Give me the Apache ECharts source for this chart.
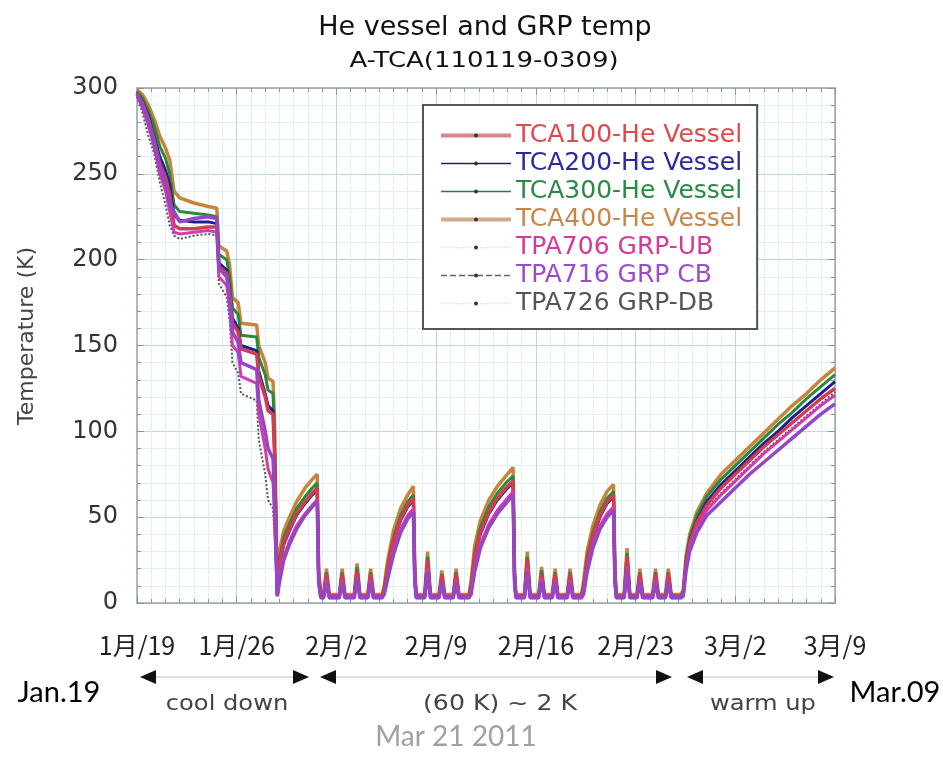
<!DOCTYPE html>
<html><head><meta charset="utf-8">
<script src="https://cdn.jsdelivr.net/npm/echarts@6/dist/echarts.min.js"></script>
<style>html,body{margin:0;padding:0;background:#fff}#c{width:943px;height:764px}</style>
</head><body><div id="c"></div>
<script>
// x in days since Jan 19 (2011)
const xTickLabels = ["1月/19","1月/26","2月/2","2月/9","2月/16","2月/23","3月/2","3月/9"];
const yTickLabels = [0,50,100,150,200,250,300];
const seriesNames = ["TCA100-He Vessel","TCA200-He Vessel","TCA300-He Vessel","TCA400-He Vessel","TPA706 GRP-UB","TPA716 GRP CB","TPA726 GRP-DB"];

const days = [
 0,0.4,0.8,1.2,1.6,2.0,2.3,2.6,3.0,4.0,5.0,5.6,5.75,6.3,6.5,6.7,7.1,7.3,8.4,8.55,9.0,9.2,9.55,9.65,9.85,
 10.0,10.3,10.7,11.2,11.8,12.3,12.65,12.75,12.9,
 13.1,13.3,13.5,14.2,14.4,14.6,15.25,15.45,15.65,16.2,16.4,16.6,17.2,
 17.35,17.6,18.0,18.5,19.0,19.4,19.5,19.6,
 20.2,20.4,20.6,21.2,21.4,21.6,22.2,22.4,22.6,23.3,
 23.45,23.7,24.1,24.7,25.3,25.9,26.4,26.5,26.6,
 27.2,27.4,27.6,28.2,28.4,28.6,29.15,29.35,29.55,30.2,30.4,30.6,31.2,
 31.35,31.6,32.0,32.5,33.0,33.45,33.55,33.65,
 34.2,34.4,34.6,35.1,35.3,35.5,36.2,36.4,36.6,37.1,37.3,37.5,38.2,
 38.35,38.55,38.8,39.3,40.0,41.0,42.0,43.0,44.0,45.0,46.0,47.0,48.0,49.0
];
const tca400 = [
 299,296,290,282,272,265,258,240,236,233,231,230,208,205,197,178,175,163,162,150,140,131,129,107,6,
 30,42,50,59,67,72,75,20,5,
 5,20,5,5,20,5,5,23,5,5,20,5,5,
 10,25,42,55,63,68,20,5,
 5,30,5,5,19,5,5,20,5,5,
 13,33,48,60,68,74,79,20,5,
 5,30,5,5,21,5,5,20,5,5,20,5,5,
 13,30,45,57,65,69,20,5,
 5,32,5,5,20,5,5,20,5,5,20,5,5,
 8,28,40,53,64,75,83,91,99,107,115,122,130,137
];
const tca300 = [
 298,294,287,278,266,259,250,232,228,227,226,225,203,200,190,172,168,156,155,143,133,124,122,98,5,
 26,38,46,55,62,67,70,18,4,
 4,18,4,4,18,4,4,21,4,4,18,4,4,
 8,22,38,51,59,63,18,4,
 4,27,4,4,17,4,4,18,4,4,
 10,29,44,56,64,70,74,18,4,
 4,27,4,4,19,4,4,18,4,4,18,4,4,
 10,27,41,53,61,65,18,4,
 4,29,4,4,18,4,4,18,4,4,18,4,4,
 7,26,38,51,62,72,80,88,96,104,111,119,126,133
];
const tca200 = [
 297,292,284,272,260,252,244,226,223,222,222,221,198,194,183,166,160,150,147,135,122,115,112,90,5,
 22,34,42,51,58,63,66,16,4,
 4,16,4,4,16,4,4,19,4,4,16,4,4,
 7,20,35,48,56,60,16,4,
 4,24,4,4,15,4,4,16,4,4,
 8,26,40,52,60,66,70,16,4,
 4,24,4,4,17,4,4,16,4,4,16,4,4,
 9,25,38,50,58,62,16,4,
 4,26,4,4,16,4,4,16,4,4,16,4,4,
 6,24,36,48,59,69,77,85,93,100,108,115,122,129
];
const tca100 = [
 297,291,282,270,256,248,238,220,218,218,219,219,196,192,181,163,158,148,145,132,120,112,110,88,5,
 23,35,43,52,59,64,67,17,4,
 4,17,4,4,17,4,4,19,4,4,17,4,4,
 7,21,36,49,57,61,16,4,
 4,25,4,4,16,4,4,17,4,4,
 9,27,41,53,61,67,71,16,4,
 4,25,4,4,17,4,4,17,4,4,17,4,4,
 9,25,39,51,59,63,16,4,
 4,27,4,4,17,4,4,17,4,4,17,4,4,
 6,23,35,47,57,67,75,83,91,98,105,112,119,125
];
const tpa706 = [
 296,288,278,266,250,240,228,216,215,216,217,216,190,185,172,150,146,132,128,110,90,78,70,50,4,
 15,27,36,45,52,57,60,12,3,
 3,13,3,3,13,3,3,15,3,3,13,3,3,
 5,15,30,43,51,55,12,3,
 3,20,3,3,12,3,3,13,3,3,
 6,20,34,46,54,60,65,12,3,
 3,20,3,3,14,3,3,13,3,3,13,3,3,
 6,20,34,45,52,56,12,3,
 3,21,3,3,13,3,3,13,3,3,13,3,3,
 5,21,32,44,54,63,71,79,87,94,101,108,115,121
];
const tpa716 = [
 297,290,280,268,254,244,232,228,222,224,225,224,195,190,178,158,152,140,136,118,100,90,84,62,4,
 12,25,34,43,51,56,59,12,3,
 3,12,3,3,12,3,3,14,3,3,12,3,3,
 5,14,28,41,49,53,12,3,
 3,18,3,3,12,3,3,12,3,3,
 5,18,32,44,52,58,63,12,3,
 3,18,3,3,13,3,3,12,3,3,12,3,3,
 5,18,32,43,50,54,12,3,
 3,19,3,3,12,3,3,12,3,3,12,3,3,
 4,19,30,41,51,59,67,75,82,89,96,103,110,116
];
const tpa726 = [
 295,285,272,262,245,232,220,214,212,214,215,214,186,178,165,140,134,122,118,95,75,60,55,40,4,
 14,26,35,44,52,57,60,12,3,
 3,12,3,3,12,3,3,14,3,3,12,3,3,
 5,15,29,42,50,54,12,3,
 3,19,3,3,12,3,3,12,3,3,
 6,19,33,45,53,59,64,12,3,
 3,19,3,3,13,3,3,12,3,3,12,3,3,
 5,19,33,44,51,55,12,3,
 3,20,3,3,12,3,3,12,3,3,12,3,3,
 5,22,33,45,55,64,72,80,88,95,102,109,116,123
];

const colors = {
 "TCA100-He Vessel":"#d23c50",
 "TCA200-He Vessel":"#1e1e96",
 "TCA300-He Vessel":"#2a8a3c",
 "TCA400-He Vessel":"#c8843c",
 "TPA706 GRP-UB":"#d23cb0",
 "TPA716 GRP CB":"#9446c4",
 "TPA726 GRP-DB":"#555555"
};
const values = {
 "TCA100-He Vessel":tca100,"TCA200-He Vessel":tca200,"TCA300-He Vessel":tca300,"TCA400-He Vessel":tca400,
 "TPA706 GRP-UB":tpa706,"TPA716 GRP CB":tpa716,"TPA726 GRP-DB":tpa726
};
const drawOrder = ["TPA726 GRP-DB","TCA400-He Vessel","TCA300-He Vessel","TCA200-He Vessel","TCA100-He Vessel","TPA706 GRP-UB","TPA716 GRP CB"];

const legendIcon = {
 "TCA100-He Vessel":{c:"#d8868e",w:4,t:"solid"},
 "TCA200-He Vessel":{c:"#1e1e80",w:1.5,t:"solid"},
 "TCA300-He Vessel":{c:"#2a7a3c",w:1.5,t:"solid"},
 "TCA400-He Vessel":{c:"#cfae8c",w:4,t:"solid"},
 "TPA706 GRP-UB":{c:"#dddddd",w:1.5,t:"dotted"},
 "TPA716 GRP CB":{c:"#6a5a8a",w:1.5,t:"dashed"},
 "TPA726 GRP-DB":{c:"#dddddd",w:1.5,t:"dotted"}
};
const legendText = {
 "TCA100-He Vessel":"#e0484e","TCA200-He Vessel":"#2a2aa0","TCA300-He Vessel":"#2a8a44",
 "TCA400-He Vessel":"#c8864a","TPA706 GRP-UB":"#d63898","TPA716 GRP CB":"#9a4ccc","TPA726 GRP-DB":"#555555"
};

const chart = echarts.init(document.getElementById('c'), null, {renderer:'canvas'});
const axisCol = '#9aa4a8';
const mkX = (pos, showLabel) => ({
 type:'value', min:0, max:49, interval:7, position:pos,
 axisLine:{show:true,onZero:false,lineStyle:{color:axisCol,width:1.5}},
 axisTick:{show:true,inside:true,length:7,lineStyle:{color:'#8a9498'}},
 minorTick:{show:true,splitNumber:7,length:4,lineStyle:{color:'#8a9498'}},
 axisLabel:{show:showLabel,formatter:v=>xTickLabels[Math.round(v/7)],fontFamily:'Noto Sans CJK JP',fontSize:25,color:'#222',margin:30},
 splitLine:{show:showLabel,lineStyle:{color:'#b6dbe4',width:1}},
 minorSplitLine:{show:showLabel,lineStyle:{color:'#dcf0f5',width:1}}
});
const mkY = (pos, showLabel) => ({
 type:'value', min:0, max:300, interval:50, position:pos,
 axisLine:{show:true,onZero:false,lineStyle:{color:axisCol,width:1.5}},
 axisTick:{show:true,inside:true,length:7,lineStyle:{color:'#8a9498'}},
 minorTick:{show:true,splitNumber:5,length:4,lineStyle:{color:'#8a9498'}},
 axisLabel:{show:showLabel,formatter:v=>String(yTickLabels[Math.round(v/50)]),fontFamily:'DejaVu Sans',fontSize:24,color:'#333',margin:19},
 splitLine:{show:showLabel,lineStyle:{color:'#b6dbe4',width:1}},
 minorSplitLine:{show:showLabel,lineStyle:{color:'#dcf0f5',width:1}}
});

const tri = (x,y,dir) => ({type:'polygon',shape:{points: dir<0 ? [[x,y],[x+16,y-7],[x+16,y+7]] : [[x,y],[x-16,y-7],[x-16,y+7]]},style:{fill:'#111'}});
const line = (x1,x2,y) => ({type:'line',shape:{x1:x1,y1:y,x2:x2,y2:y},style:{stroke:'#d4d4d4',lineWidth:1.5}});
const txt = (x,y,t,font,col,sx) => ({type:'text',x:x,y:y,scaleX:sx||1,style:{text:t,font:font,fill:col,textAlign:'center',textVerticalAlign:'middle'}});

chart.setOption({
 animation:false,
 backgroundColor:'#fff',
 grid:{left:137,right:108,top:88,bottom:161,containLabel:false},
 xAxis:[mkX('bottom',true),mkX('top',false)],
 yAxis:[mkY('left',true),mkY('right',false)],
 legend:{
  orient:'vertical',left:423,top:105,backgroundColor:'#fff',borderColor:'#555',borderWidth:2,
  padding:[18,15,13,16],itemWidth:70,itemHeight:5,itemGap:3,
  textStyle:{fontFamily:'DejaVu Sans',fontSize:25},
  data:seriesNames.map(n=>({name:n,
    lineStyle:{color:legendIcon[n].c,width:legendIcon[n].w,type:legendIcon[n].t},
    itemStyle:{color:'#333'},
    textStyle:{color:legendText[n]}}))
 },
 series:drawOrder.map(n=>({
  name:n,type:'line',xAxisIndex:0,yAxisIndex:0,
  data:days.map((d,i)=>[d,values[n][i]]),
  showSymbol:false,symbol:'circle',symbolSize:3,
  lineStyle:{color:colors[n],
    width: n==="TPA726 GRP-DB" ? 2 : (n==="TCA400-He Vessel"||n==="TCA100-He Vessel"||n==="TPA716 GRP CB" ? 3.5 : 3),
    type: n==="TPA726 GRP-DB" ? 'dotted':'solid'},
  itemStyle:{color:colors[n]},
  emphasis:{disabled:true}
 })),
 graphic:[
  txt(485,28,'He vessel and GRP temp','27px "DejaVu Sans"','#111'),
  txt(484,61,'A-TCA(110119-0309)','22px "DejaVu Sans"','#111',1.18),
  {type:'text',x:27,y:336,rotation:Math.PI/2,style:{text:'Temperature (K)',font:'22px "DejaVu Sans"',fill:'#444',textAlign:'center',textVerticalAlign:'middle'}},
  tri(140,677,-1), line(156,293,677), tri(309,677,1),
  tri(320,677,-1), line(336,656,677), tri(672,677,1),
  tri(687,677,-1), line(703,818,677), tri(834,677,1),
  txt(227,705,'cool down','21px "DejaVu Sans"','#444',1.15),
  txt(500,705,'(60 K) ~ 2 K','21px "DejaVu Sans"','#444',1.2),
  txt(763,705,'warm up','21px "DejaVu Sans"','#444',1.15),
  txt(59,693,'Jan.19','29px Lato','#000'),
  txt(895,693,'Mar.09','29px Lato','#000'),
  txt(456,737,'Mar 21 2011','28px Lato','#a0a0a0')
 ]
});
</script></body></html>
